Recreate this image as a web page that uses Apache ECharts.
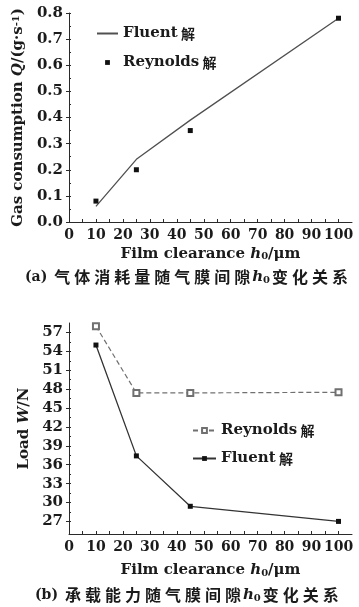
<!DOCTYPE html>
<html>
<head>
<meta charset="utf-8">
<script src="https://cdn.jsdelivr.net/npm/echarts@6/dist/echarts.min.js"></script>
<style>
  html, body { margin: 0; padding: 0; background: #fff; }
  #gas  { position: absolute; left: 0; top: 0;     width: 359px; height: 300px; }
  #load { position: absolute; left: 0; top: 300px; width: 359px; height: 307px; }
</style>
</head>
<body>
<div id="gas"></div>
<div id="load"></div>
<script>
// Film clearance h0 (μm) at which both models were evaluated
const clearance = [10, 25, 45, 100];

// (a) gas consumption Q, g/s
const gasFluent   = [0.06, 0.24, 0.39, 0.78];
const gasReynolds = [0.08, 0.20, 0.35, 0.78];

// (b) load capacity W, N
const loadReynolds = [58.0, 47.4, 47.4, 47.5];
const loadFluent   = [55.0, 37.4, 29.4, 27.0];

// tick labels
const xLabels    = [0, 10, 20, 30, 40, 50, 60, 70, 80, 90, 100];
const gasLabels  = [0, 0.1, 0.2, 0.3, 0.4, 0.5, 0.6, 0.7, 0.8];
const loadLabels = [27, 30, 33, 36, 39, 42, 45, 48, 51, 54, 57];

const SERIF = 'DejaVu Serif';
const CJK = 'Noto Sans CJK SC';
const INK = '#1b1b1b';
const AXIS = '#2a2a2a';

// half-step positions between labelled ticks
function halves(list) {
  const out = [];
  for (let i = 0; i < list.length; i++) {
    out.push(list[i]);
    if (i < list.length - 1) out.push(+((list[i] + list[i + 1]) / 2).toFixed(4));
  }
  return out;
}
const pairs = (ys) => clearance.map((x, i) => [x, ys[i]]);

const nameRich = {
  t: { fontFamily: SERIF, fontWeight: 'bold', fontSize: 15, color: INK },
  i: { fontFamily: SERIF, fontWeight: 'bold', fontStyle: 'italic', fontSize: 15, color: INK },
  s: { fontFamily: SERIF, fontWeight: 'bold', fontSize: 10, color: INK, verticalAlign: 'bottom' },
  u: { fontFamily: SERIF, fontWeight: 'bold', fontSize: 10, color: INK, verticalAlign: 'top' }
};

const captionRich = {
  p: { fontFamily: SERIF, fontWeight: 'bold', fontSize: 14, color: INK },
  c: { fontFamily: CJK, fontSize: 16, color: INK, padding: [0, 2, 0, 2] },
  i: { fontFamily: SERIF, fontWeight: 'bold', fontStyle: 'italic', fontSize: 15, color: INK },
  s: { fontFamily: SERIF, fontWeight: 'bold', fontSize: 10, color: INK, verticalAlign: 'bottom' }
};
const spaced = (str) => str.split('').map(ch => '{c|' + ch + '}').join('');

const legendText = {
  rich: {
    e: { fontFamily: SERIF, fontWeight: 'bold', fontSize: 15, color: INK },
    h: { fontFamily: CJK, fontWeight: 'bold', fontSize: 14, color: INK }
  }
};
const legendFormatter = (name) => {
  const parts = name.split(' ');
  return '{e|' + parts[0] + '} {h|' + parts[1] + '}';
};

function xAxisDef(nameGap) {
  return {
    type: 'value', min: 0, max: 105,
    name: '{t|Film clearance }{i|h}{s|0}{t|/μm}',
    nameLocation: 'middle', nameGap: nameGap,
    nameTextStyle: { rich: nameRich },
    axisLine: { show: true, lineStyle: { color: AXIS, width: 1 } },
    axisTick: { show: true, inside: true, length: 3, customValues: halves(xLabels), lineStyle: { color: AXIS } },
    axisLabel: { customValues: xLabels, fontFamily: SERIF, fontWeight: 'bold', fontSize: 14, color: INK, margin: 6 },
    splitLine: { show: false }
  };
}

function yAxisDefs(min, max, labels, name, nameGap, fmt) {
  const main = {
    type: 'value', min: min, max: max,
    name: name, nameLocation: 'middle', nameGap: nameGap,
    nameTextStyle: { rich: nameRich },
    axisLine: { show: true, lineStyle: { color: AXIS, width: 1 } },
    axisTick: { show: true, inside: false, length: 3, customValues: labels, lineStyle: { color: AXIS } },
    axisLabel: { customValues: labels, formatter: fmt, fontFamily: SERIF, fontWeight: 'bold', fontSize: 15, color: INK, margin: 6 },
    splitLine: { show: false }
  };
  // minor ticks on the inner side
  const minor = {
    type: 'value', min: min, max: max, position: 'left',
    axisLine: { show: false },
    axisTick: { show: true, inside: true, length: 2, customValues: halves(labels), lineStyle: { color: AXIS } },
    axisLabel: { show: false },
    splitLine: { show: false }
  };
  return [main, minor];
}

// ---------- (a) gas consumption ----------
const gasChart = echarts.init(document.getElementById('gas'));
gasChart.setOption({
  animation: false,
  grid: { left: 69, top: 13, width: 283, height: 209 },
  title: {
    left: 25, top: 269, padding: 0,
    text: '{p|(a) }' + spaced('气体消耗量随气膜间隙') + '{i|h}{s|0}' + spaced('变化关系'),
    textStyle: { rich: captionRich }
  },
  legend: {
    orient: 'vertical', left: 96, top: 26, padding: 0,
    itemWidth: 21, itemHeight: 6, itemGap: 14,
    data: [{ name: 'Fluent 解', itemStyle: { opacity: 0 } }, 'Reynolds 解'],
    formatter: legendFormatter, textStyle: legendText
  },
  xAxis: xAxisDef(24),
  yAxis: yAxisDefs(0, 0.8, gasLabels,
    '{t|Gas consumption }{i|Q}{t|/(g·s}{u|-1}{t|)}', 34,
    (v) => v.toFixed(1)),
  series: [
    {
      name: 'Fluent 解', type: 'line', data: pairs(gasFluent),
      symbol: 'none', lineStyle: { color: '#505050', width: 1.3 }, itemStyle: { color: '#505050' }
    },
    {
      name: 'Reynolds 解', type: 'line', data: pairs(gasReynolds),
      symbol: 'rect', symbolSize: 5,
      lineStyle: { width: 0, opacity: 0 }, itemStyle: { color: '#111' }
    }
  ]
});

// ---------- (b) load capacity ----------
const loadChart = echarts.init(document.getElementById('load'));
loadChart.setOption({
  animation: false,
  grid: { left: 69, top: 23, width: 283, height: 211 },
  title: {
    left: 35, top: 287, padding: 0,
    text: '{p|(b) }' + spaced('承载能力随气膜间隙') + '{i|h}{s|0}' + spaced('变化关系'),
    textStyle: { rich: captionRich }
  },
  legend: {
    orient: 'vertical', left: 192, top: 123, padding: 0,
    itemWidth: 23, itemHeight: 6, itemGap: 13,
    data: ['Reynolds 解', 'Fluent 解'],
    formatter: legendFormatter, textStyle: legendText
  },
  xAxis: xAxisDef(29),
  yAxis: yAxisDefs(25, 58.5, loadLabels, '{t|Load }{i|W}{t|/N}', 30, (v) => String(v)),
  series: [
    {
      name: 'Reynolds 解', type: 'line', data: pairs(loadReynolds),
      symbol: 'emptyRect', symbolSize: 6,
      lineStyle: { color: '#707070', width: 1.2, type: [5, 3] },
      itemStyle: { color: '#707070', borderWidth: 1 }
    },
    {
      name: 'Fluent 解', type: 'line', data: pairs(loadFluent),
      symbol: 'rect', symbolSize: 5,
      lineStyle: { color: '#333', width: 1.3 }, itemStyle: { color: '#111' }
    }
  ]
});
</script>
</body>
</html>
